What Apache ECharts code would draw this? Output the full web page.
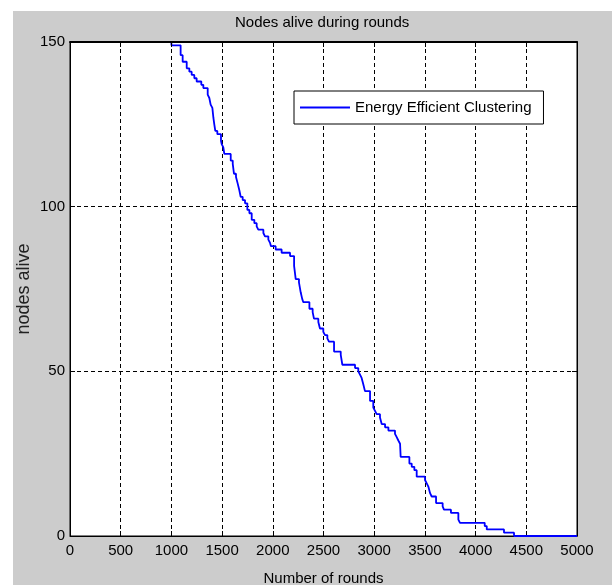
<!DOCTYPE html>
<html><head><meta charset="utf-8">
<script src="https://cdn.jsdelivr.net/npm/echarts@6/dist/echarts.min.js"></script>
<style>html,body{margin:0;padding:0;background:#fff}#c{width:614px;height:585px}</style>
</head><body><div id="c"></div>
<script>
const chartTitle = 'Nodes alive during rounds';
const seriesName = 'Energy Efficient Clustering';
const xAxisName = 'Number of rounds';
const yAxisName = 'nodes alive';
const xMin = 0, xMax = 5000, xStep = 500;
const yMin = 0, yMax = 150, yStep = 50;

const rounds = [0,1000,1091,1111,1151,1177,1200,1226,1249,1295,1315,1358,1374,1387,1404,1414,1423,1433,1453,1489,1496,1512,1522,1585,1605,1617,1637,1654,1670,1683,1703,1726,1749,1769,1792,1818,1841,1857,1907,1923,1956,1973,1982,2028,2087,2170,2210,2226,2258,2275,2290,2301,2361,2393,2406,2449,2465,2498,2515,2538,2554,2604,2670,2686,2811,2843,2860,2876,2893,2909,2959,2991,3008,3024,3057,3074,3107,3140,3205,3222,3238,3255,3261,3347,3370,3396,3419,3501,3518,3534,3551,3567,3610,3675,3688,3757,3830,3846,4090,4110,4280,4379,5000];
const nodesAlive = [150,149,146,144,142,141,140,139,138,137,136,134,133,131,130,127,125,123,122,120,119,118,116,114,113,110,109,107,105,103,102,101,99,98,96,95,94,93,92,91,90,89,88,87,86,85,82,78,77,74,72,71,69,68,66,65,63,62,61,60,59,56,55,52,51,50,49,48,46,44,41,39,38,37,36,34,33,32,31,30,29,28,24,22,21,20,18,17,16,15,13,12,10,9,8,7,5,4,3,2,1,0,0];

const FONT = "'Liberation Sans',Arial,Helvetica,sans-serif";
const TXT = '#000';
const chart = echarts.init(document.getElementById('c'), null, {renderer: 'canvas'});
const data = rounds.map((r, i) => [r, nodesAlive[i]]);
const plain = v => String(v);

const baseAxis = {
  type: 'value',
  axisLine: {show: true, onZero: false, lineStyle: {color: '#000', width: 1}},
  axisTick: {show: true, inside: true, length: 5, lineStyle: {color: '#000'}},
  axisLabel: {show: false},
  splitLine: {show: false}
};

const option = {
  backgroundColor: '#fff',
  animation: false,
  graphic: [{type: 'rect', silent: true, z: -10, shape: {x: 13, y: 11, width: 599, height: 574}, style: {fill: '#cccccc'}}],
  title: {text: chartTitle, left: 235, top: 15, padding: 0,
    textStyle: {fontFamily: FONT, fontSize: 15, fontWeight: 'normal', color: TXT}},
  grid: {left: 70, top: 42, right: 37, bottom: 49, containLabel: false, outerBoundsMode: 'none',
    show: true, backgroundColor: '#fff', borderColor: '#000', borderWidth: 1},
  legend: {
    left: 294, top: 91, orient: 'horizontal',
    borderColor: '#000', borderWidth: 1, backgroundColor: '#fff', borderRadius: 0,
    padding: [9, 12, 9, 6], itemWidth: 50, itemHeight: 2,
    data: [{name: seriesName, icon: 'rect'}],
    textStyle: {fontFamily: FONT, fontSize: 15, color: TXT}
  },
  xAxis: [
    Object.assign({}, baseAxis, {
      min: xMin, max: xMax, interval: xStep, position: 'bottom',
      axisLabel: {show: true, fontFamily: FONT, fontSize: 15, color: TXT, margin: 7, formatter: plain},
      splitLine: {show: true, lineStyle: {color: '#000', type: [4, 3], width: 1}},
      name: xAxisName, nameLocation: 'middle', nameGap: 35,
      nameTextStyle: {fontFamily: FONT, fontSize: 15, color: TXT}
    }),
    Object.assign({}, baseAxis, {
      min: xMin, max: xMax, interval: xStep, position: 'top', z: 5,
      axisLine: {show: true, onZero: false, lineStyle: {color: '#000', width: 2}}
    })
  ],
  yAxis: [
    Object.assign({}, baseAxis, {
      min: yMin, max: yMax, interval: yStep, position: 'left',
      axisLabel: {show: true, fontFamily: FONT, fontSize: 15, color: TXT, margin: 5, formatter: plain},
      splitLine: {show: true, lineStyle: {color: '#000', type: [4, 3], width: 1}},
      name: yAxisName, nameLocation: 'middle', nameGap: 37, nameRotate: 90, nameMoveOverlap: false,
      nameTextStyle: {fontFamily: FONT, fontSize: 18, color: '#222'}
    }),
    Object.assign({}, baseAxis, {
      min: yMin, max: yMax, interval: yStep, position: 'right'
    })
  ],
  series: [{
    type: 'line', name: seriesName, data: data, step: 'end',
    xAxisIndex: 0, yAxisIndex: 0,
    symbol: 'none', showSymbol: false, z: 3,
    lineStyle: {color: '#0000ff', width: 1.8},
    itemStyle: {color: '#0000ff'}
  }]
};
chart.setOption(option);
</script>
</body></html>
